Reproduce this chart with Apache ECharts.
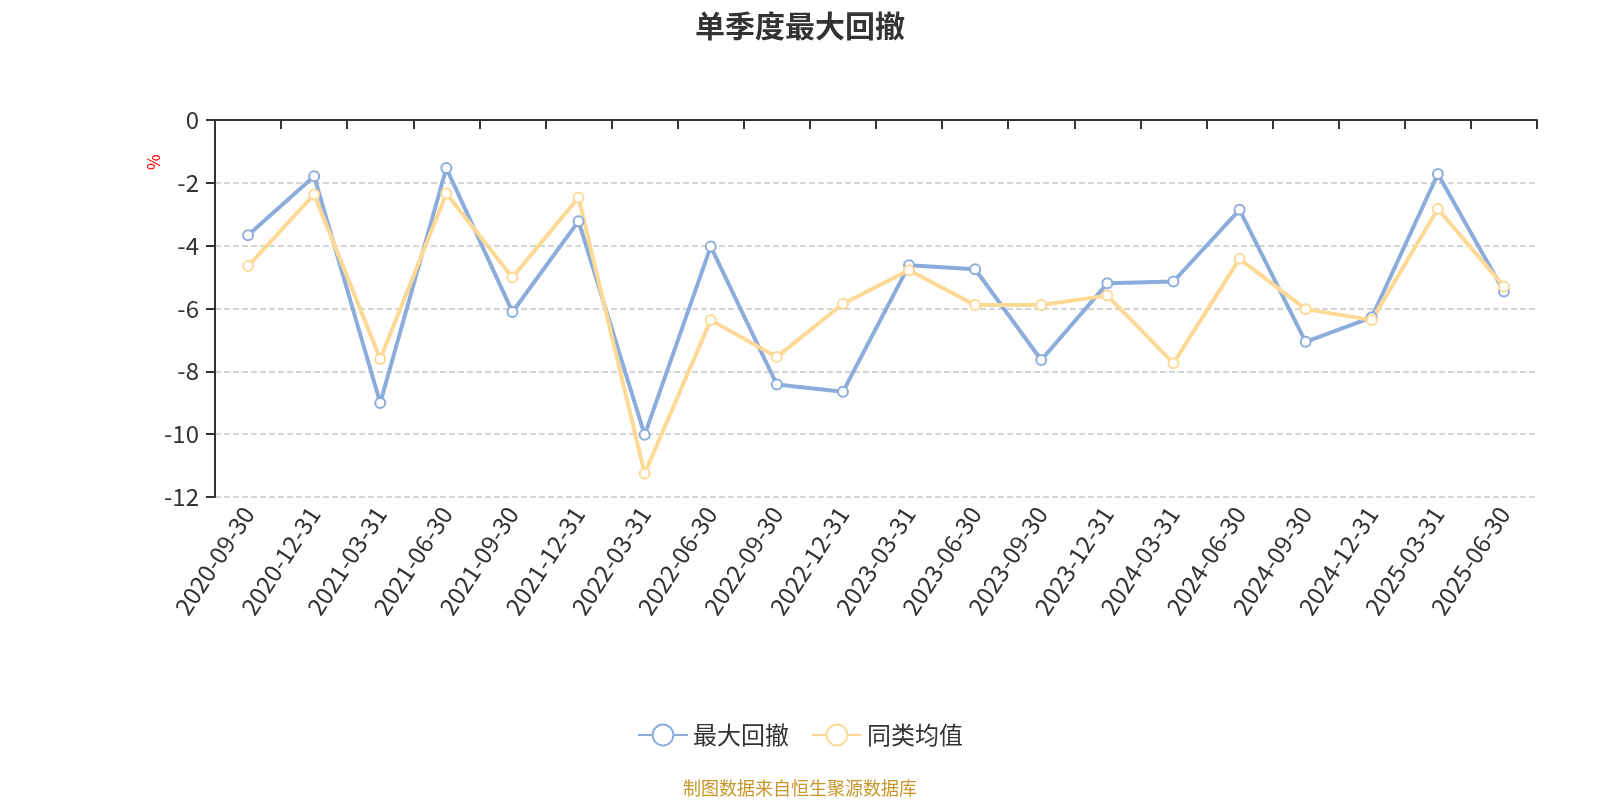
<!DOCTYPE html>
<html><head><meta charset="utf-8">
<script src="https://cdn.jsdelivr.net/npm/echarts@6/dist/echarts.min.js"></script>
<style>html,body{margin:0;padding:0;background:#fff}#c{width:1600px;height:800px}</style>
</head><body><div id="c"></div>
<script>
const categories = ["2020-09-30","2020-12-31","2021-03-31","2021-06-30","2021-09-30","2021-12-31","2022-03-31","2022-06-30","2022-09-30","2022-12-31","2023-03-31","2023-06-30","2023-09-30","2023-12-31","2024-03-31","2024-06-30","2024-09-30","2024-12-31","2025-03-31","2025-06-30"];
const maxDrawdown = [-3.67,-1.79,-9.01,-1.53,-6.11,-3.22,-10.02,-4.03,-8.42,-8.65,-4.62,-4.75,-7.64,-5.20,-5.14,-2.86,-7.06,-6.28,-1.72,-5.46];
const peerAverage = [-4.65,-2.37,-7.61,-2.34,-5.01,-2.47,-11.25,-6.37,-7.54,-5.85,-4.78,-5.89,-5.89,-5.59,-7.74,-4.42,-6.02,-6.37,-2.83,-5.30];
const yTicks = {min:-12, max:0, interval:2};

const chart = echarts.init(document.getElementById('c'));
const font = "'Microsoft YaHei','Noto Sans CJK SC','Noto Sans',sans-serif";
chart.setOption({
  textStyle:{fontFamily:font},
  title:{text:'单季度最大回撤',left:'center',top:6,textStyle:{fontSize:30,fontWeight:'bold',color:'#333',fontFamily:font}},
  legend:{top:718,left:'center',itemWidth:50,itemHeight:26,itemGap:22,textStyle:{fontSize:24,color:'#333'},
    data:['最大回撤','同类均值']},
  graphic:[
    {type:'text',left:'center',top:779,style:{text:'制图数据来自恒生聚源数据库',fill:'#c9962b',fontSize:18,fontFamily:font}},
    {type:'text',x:145,y:170,rotation:Math.PI/2,style:{text:'%',fill:'#ff0000',fontSize:17,fontFamily:font}}
  ],
  grid:{left:215,right:63,top:120,bottom:303},
  xAxis:[
    {type:'category',data:categories,position:'bottom',boundaryGap:true,
     axisLine:{show:false,onZero:false},axisTick:{show:false},
     axisLabel:{rotate:57,fontSize:24,color:'#333',margin:12,interval:0}},
    {type:'category',data:categories,position:'top',boundaryGap:true,
     axisLine:{show:true,lineStyle:{color:'#333',width:2}},
     axisTick:{show:true,inside:true,interval:0,length:9,lineStyle:{color:'#333',width:2}},
     axisLabel:{show:false,interval:0}}
  ],
  yAxis:{type:'value',min:yTicks.min,max:yTicks.max,interval:yTicks.interval,
    axisLine:{show:true,lineStyle:{color:'#333',width:2}},axisTick:{show:true,length:9,lineStyle:{color:'#333',width:2}},
    axisLabel:{fontSize:24,color:'#333',margin:16},
    splitLine:{show:true,lineStyle:{type:'dashed',color:'#c8c8c8',width:1.5}}},
  series:[
    {name:'最大回撤',type:'line',data:maxDrawdown,symbol:'emptyCircle',symbolSize:10,
     itemStyle:{color:'#8caddb',borderWidth:2.5},lineStyle:{width:4,color:'#8caddb'}},
    {name:'同类均值',type:'line',data:peerAverage,symbol:'emptyCircle',symbolSize:10,
     itemStyle:{color:'#fdd995',borderWidth:2.5},lineStyle:{width:4,color:'#fdd995'}}
  ]
});
</script></body></html>
